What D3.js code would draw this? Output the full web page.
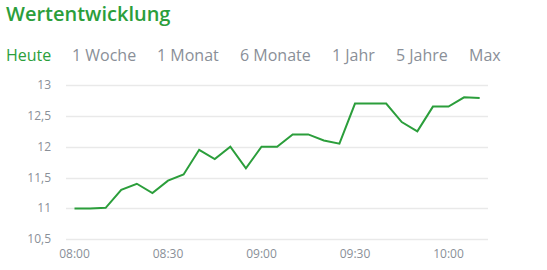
<!DOCTYPE html>
<html>
<head>
<meta charset="utf-8">
<script src="https://cdn.jsdelivr.net/npm/d3@7"></script>
<style>
  body { margin: 0; background: #fff; font-family: "Open Sans", sans-serif; }
</style>
</head>
<body>
<div id="chart"></div>
<script>
// Kursdaten (5-Minuten-Takt)
const times = ["08:00","08:05","08:10","08:15","08:20","08:25","08:30","08:35","08:40","08:45",
  "08:50","08:55","09:00","09:05","09:10","09:15","09:20","09:25","09:30","09:35",
  "09:40","09:45","09:50","09:55","10:00","10:05","10:10"];
const values = [11.0, 11.0, 11.01, 11.3, 11.4, 11.25, 11.45, 11.55, 11.95, 11.8,
  12.0, 11.65, 12.0, 12.0, 12.2, 12.2, 12.1, 12.05, 12.7, 12.7,
  12.7, 12.4, 12.25, 12.65, 12.65, 12.8, 12.79];
const yTicks = [10.5, 11, 11.5, 12, 12.5, 13];
const xTicks = ["08:00", "08:30", "09:00", "09:30", "10:00"];
const tabs = ["Heute", "1 Woche", "1 Monat", "6 Monate", "1 Jahr", "5 Jahre", "Max"];

const width = 547, height = 270;
const green = "#2b9e3b";
const grey = "#8a8f98";

const parse = d3.timeParse("%H:%M");
const data = times.map((t, i) => ({ t: parse(t), v: values[i] }));

const svg = d3.select("#chart").append("svg")
  .attr("width", width)
  .attr("height", height);

// Titel
svg.append("text")
  .attr("x", 6)
  .attr("y", 21)
  .attr("fill", green)
  .style("font-size", "20px")
  .style("font-weight", "600")
  .text("Wertentwicklung");

// Zeitraum-Tabs
const tabX = [6, 72, 157, 240, 332, 396, 469];
svg.selectAll(".tab")
  .data(tabs)
  .enter()
  .append("text")
  .attr("x", (d, i) => tabX[i])
  .attr("y", 61)
  .attr("fill", (d, i) => i === 0 ? green : grey)
  .style("font-size", "16px")
  .text(d => d);

// Skalen
const x = d3.scaleTime()
  .domain([parse("08:00"), parse("10:00")])
  .range([74.5, 448.5]);
const y = d3.scaleLinear()
  .domain([10.5, 13])
  .range([239.3, 85]);

// Gitterlinien
svg.append("g")
  .selectAll("line")
  .data(yTicks)
  .enter()
  .append("line")
  .attr("x1", 66)
  .attr("x2", 488)
  .attr("y1", d => Math.round(y(d)) + 0.5)
  .attr("y2", d => Math.round(y(d)) + 0.5)
  .attr("stroke", "#e9e9e9")
  .attr("stroke-width", 1.5);

// Y-Achse
const fmt = d3.format(",.1~f");
svg.append("g")
  .selectAll("text")
  .data(yTicks)
  .enter()
  .append("text")
  .attr("x", 51)
  .attr("y", d => y(d) + 4)
  .attr("text-anchor", "end")
  .attr("fill", grey)
  .style("font-size", "12px")
  .text(d => fmt(d).replace(".", ","));

// X-Achse
svg.append("g")
  .selectAll("text")
  .data(xTicks)
  .enter()
  .append("text")
  .attr("x", d => x(parse(d)))
  .attr("y", 258)
  .attr("text-anchor", "middle")
  .attr("fill", grey)
  .style("font-size", "12px")
  .text(d => d);

// Linie
const line = d3.line()
  .x(d => x(d.t))
  .y(d => y(d.v));

svg.append("path")
  .datum(data)
  .attr("d", line)
  .attr("fill", "none")
  .attr("stroke", green)
  .attr("stroke-width", 2)
  .attr("stroke-linejoin", "miter");
</script>
</body>
</html>
